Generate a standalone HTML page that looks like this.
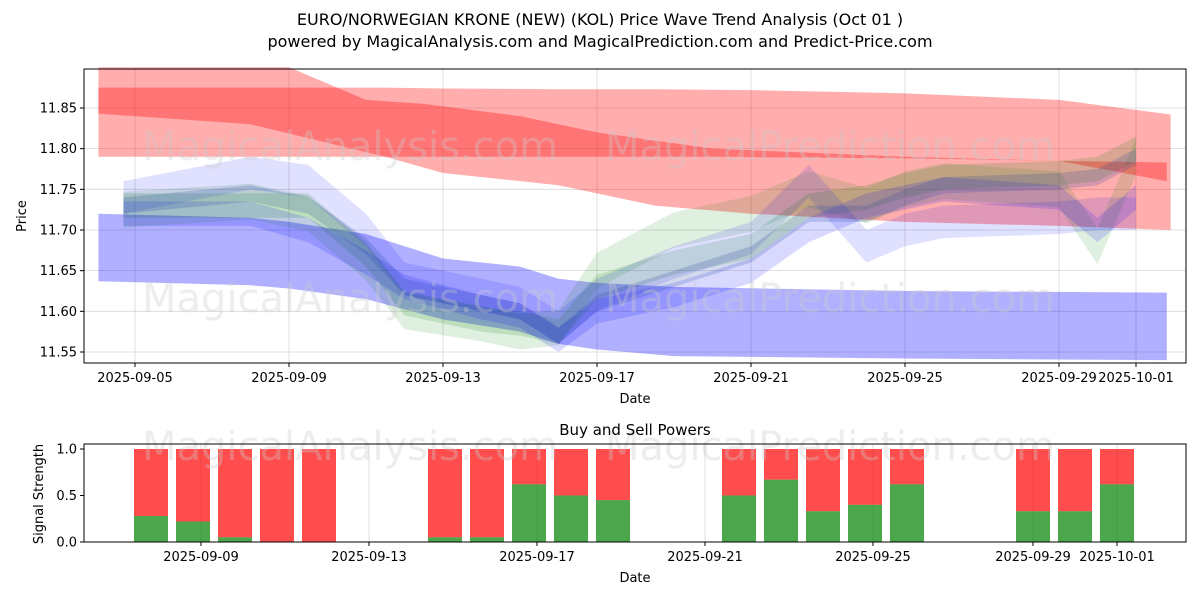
<!DOCTYPE html>
<html><head><meta charset="utf-8">
<style>
body{margin:0;background:#fff;font-family:"Liberation Sans","DejaVu Sans",sans-serif;}
svg text{font-family:"DejaVu Sans","Liberation Sans",sans-serif;}
</style></head>
<body>
<svg id="c" width="1200" height="600" xmlns="http://www.w3.org/2000/svg">
<text x="600" y="25" text-anchor="middle" font-size="16">EURO/NORWEGIAN KRONE (NEW) (KOL) Price Wave Trend Analysis (Oct 01 )</text>
<text x="600" y="47" text-anchor="middle" font-size="16">powered by MagicalAnalysis.com and MagicalPrediction.com and Predict-Price.com</text>
<g id="main"></g>
<g id="sub"></g>
</svg>
<script>
// ---------- data ----------
const priceTicks = [11.55, 11.60, 11.65, 11.70, 11.75, 11.80, 11.85];
const priceTickLabels = ["11.55","11.60","11.65","11.70","11.75","11.80","11.85"];
const dateTickDays = [5, 9, 13, 17, 21, 25, 29, 31];
const dateTickLabels = ["2025-09-05","2025-09-09","2025-09-13","2025-09-17","2025-09-21","2025-09-25","2025-09-29","2025-10-01"];

const redADays = [4.05, 9, 11, 12.5, 15, 17, 20, 25, 29, 31.8];
const redAUpper = [11.90, 11.90, 11.86, 11.855, 11.84, 11.82, 11.80, 11.79, 11.785, 11.783];
const redALower = [11.79, 11.79, 11.79, 11.79, 11.79, 11.79, 11.79, 11.788, 11.785, 11.76];
const redBDays = [4.05, 8, 11.5, 13, 16, 18.5, 21, 25, 29, 31.9];
const redBUpper = [11.875, 11.875, 11.875, 11.874, 11.873, 11.873, 11.872, 11.868, 11.86, 11.842];
const redBLower = [11.843, 11.83, 11.79, 11.77, 11.755, 11.73, 11.72, 11.71, 11.705, 11.70];

const blueDays = [4.05, 8, 9, 11, 13, 15, 16, 17, 19, 25, 31.8];
const blueUpper = [11.72, 11.715, 11.71, 11.695, 11.665, 11.655, 11.64, 11.635, 11.63, 11.625, 11.623];
const blueLower = [11.637, 11.632, 11.628, 11.615, 11.59, 11.575, 11.56, 11.553, 11.545, 11.542, 11.54];

const waveDays = [4.7, 8, 9.5, 11, 12, 14, 15, 16, 17, 19, 21, 22.5, 24, 25, 26, 29, 30, 31];
const waveMain = [11.73, 11.745, 11.73, 11.68, 11.63, 11.61, 11.60, 11.57, 11.61, 11.64, 11.67, 11.72, 11.72, 11.74, 11.755, 11.76, 11.765, 11.79];
const waveGreen = [11.725, 11.735, 11.72, 11.66, 11.60, 11.585, 11.575, 11.58, 11.65, 11.70, 11.72, 11.75, 11.73, 11.75, 11.76, 11.75, 11.68, 11.79];
const waveBlueHigh = [11.74, 11.77, 11.76, 11.70, 11.64, 11.62, 11.61, 11.58, 11.62, 11.66, 11.69, 11.76, 11.68, 11.70, 11.71, 11.715, 11.72, 11.72];
const waveBlueLow = [11.72, 11.72, 11.70, 11.66, 11.63, 11.605, 11.595, 11.565, 11.60, 11.62, 11.65, 11.70, 11.73, 11.74, 11.75, 11.74, 11.70, 11.74];
const waveGreen2 = [11.73, 11.73, 11.73, 11.67, 11.61, 11.59, 11.585, 11.575, 11.63, 11.66, 11.68, 11.73, 11.74, 11.755, 11.765, 11.77, 11.775, 11.80];

const barDays = [8, 9, 10, 11, 12, 15, 16, 17, 18, 19, 22, 23, 24, 25, 26, 29, 30, 31];
const buyPower = [0.28, 0.22, 0.05, 0, 0, 0.05, 0.05, 0.62, 0.5, 0.45, 0.5, 0.67, 0.33, 0.4, 0.62, 0.33, 0.33, 0.62];
const subTicks = [0, 0.5, 1.0];
const subTickLabels = ["0.0","0.5","1.0"];
const subDateX = [201, 369, 537, 705, 873, 1033, 1117];
const subDateLabels = ["2025-09-09","2025-09-13","2025-09-17","2025-09-21","2025-09-25","2025-09-29","2025-10-01"];

// ---------- axes ----------
const M = {l:84, r:1186, t:69, b:363};
const X = d => 135 + (d - 5) * 38.5;
const Y = v => 352 - (v - 11.55) / 0.05 * 40.67;
const S = {l:84, r:1186, t:444, b:542};
const BX = d => 151 + (d - 8) * 42;
const SY = v => 542 - v * 93;
const NS = "http://www.w3.org/2000/svg";
function mk(parent, tag, attrs) {
  const e = document.createElementNS(NS, tag);
  for (const k in attrs) e.setAttribute(k, attrs[k]);
  parent.appendChild(e); return e;
}
const main = document.getElementById('main');
const sub = document.getElementById('sub');

priceTicks.forEach((v, i) => {
  const g = mk(main, 'line', {x1:M.l, x2:M.r, y1:Y(v), y2:Y(v), stroke:'#b0b0b0', 'stroke-width':0.8, 'stroke-opacity':0.5});
  
  
  mk(main, 'line', {x1:M.l-4, x2:M.l, y1:Y(v), y2:Y(v), stroke:'#000'});
  const t = mk(main, 'text', {x:M.l-7, y:Y(v)+4.5, 'text-anchor':'end', 'font-size':13});
  t.textContent = priceTickLabels[i];
  
  
});
dateTickDays.forEach((d, i) => {
  const g = mk(main, 'line', {x1:X(d), x2:X(d), y1:M.t, y2:M.b, stroke:'#b0b0b0', 'stroke-width':0.8, 'stroke-opacity':0.5});
  
  
  mk(main, 'line', {x1:X(d), x2:X(d), y1:M.b, y2:M.b+4, stroke:'#000'});
  const t = mk(main, 'text', {x:X(d), y:M.b+19, 'text-anchor':'middle', 'font-size':13});
  t.textContent = dateTickLabels[i];
  
  
});

function band(parent, days, up, lo, fill, op, name) {
  let pts = days.map((d, i) => X(d) + ',' + Y(up[i]));
  pts = pts.concat(days.map((d, i) => X(d) + ',' + Y(lo[i])).reverse());
  const p = mk(parent, 'polygon', {points: pts.join(' '), fill: fill, 'fill-opacity': op});
  
  
}
band(main, redADays, redAUpper, redALower, '#ff0000', 0.32, 'red-band-a');
band(main, redBDays, redBUpper, redBLower, '#ff0000', 0.32, 'red-band-b');
band(main, blueDays, blueUpper, blueLower, '#0000ff', 0.31, 'blue-band');

function wave(series, hw, fill, op, name) {
  const up = series.map(v => v + hw), lo = series.map(v => v - hw);
  band(main, waveDays, up, lo, fill, op, name);
}
wave(waveGreen, 0.022, '#008000', 0.12, 'green-wave-a');
wave(waveGreen2, 0.015, '#008000', 0.15, 'green-wave-b');
wave(waveBlueHigh, 0.02, '#0000ff', 0.12, 'blue-wave-a');
wave(waveBlueLow, 0.015, '#0000ff', 0.15, 'blue-wave-b');
wave(waveMain, 0.01, '#2040a0', 0.2, 'main-wave');

[[350,160],[830,160],[350,312],[830,312]].forEach((p, i) => {
  const t = mk(main, 'text', {x:p[0], y:p[1], 'text-anchor':'middle', 'font-size':40, fill:'#cccccc', 'fill-opacity':0.35});
  t.textContent = i % 2 ? 'MagicalPrediction.com' : 'MagicalAnalysis.com';
  
  
});
mk(main, 'rect', {x:M.l, y:M.t, width:M.r-M.l, height:M.b-M.t, fill:'none', stroke:'#000', 'stroke-width':1});
let t1 = mk(main, 'text', {x:635, y:403, 'text-anchor':'middle', 'font-size':13}); t1.textContent = 'Date';


let t2 = mk(main, 'text', {x:26, y:216, 'text-anchor':'middle', 'font-size':13, transform:'rotate(-90 26 216)'}); t2.textContent = 'Price';



// ---------- sub chart ----------
subDateX.forEach((x, i) => {
  const g = mk(sub, 'line', {x1:x, x2:x, y1:S.t, y2:S.b, stroke:'#b0b0b0', 'stroke-width':0.8, 'stroke-opacity':0.5});
  
  
  mk(sub, 'line', {x1:x, x2:x, y1:S.b, y2:S.b+4, stroke:'#000'});
  const t = mk(sub, 'text', {x:x, y:S.b+19, 'text-anchor':'middle', 'font-size':13});
  t.textContent = subDateLabels[i];
  
  
});
subTicks.forEach((v, i) => {
  mk(sub, 'line', {x1:S.l-4, x2:S.l, y1:SY(v), y2:SY(v), stroke:'#000'});
  const t = mk(sub, 'text', {x:S.l-7, y:SY(v)+4.5, 'text-anchor':'end', 'font-size':13});
  t.textContent = subTickLabels[i];
  
  
});
barDays.forEach((d, i) => {
  const x = BX(d) - 17, b = buyPower[i];
  const r = mk(sub, 'rect', {x:x, y:SY(1), width:34, height:SY(b)-SY(1), fill:'#ff0000', 'fill-opacity':0.7});
  
  
  const g = mk(sub, 'rect', {x:x, y:SY(b), width:34, height:SY(0)-SY(b), fill:'#008000', 'fill-opacity':0.7});
  
  
});
[[350,460],[830,460]].forEach((p, i) => {
  const t = mk(sub, 'text', {x:p[0], y:p[1], 'text-anchor':'middle', 'font-size':40, fill:'#cccccc', 'fill-opacity':0.35});
  t.textContent = i ? 'MagicalPrediction.com' : 'MagicalAnalysis.com';
  
  
});
mk(sub, 'rect', {x:S.l, y:S.t, width:S.r-S.l, height:S.b-S.t, fill:'none', stroke:'#000', 'stroke-width':1});
let t3 = mk(sub, 'text', {x:635, y:435, 'text-anchor':'middle', 'font-size':15}); t3.textContent = 'Buy and Sell Powers';


let t4 = mk(sub, 'text', {x:635, y:582, 'text-anchor':'middle', 'font-size':13}); t4.textContent = 'Date';


let t5 = mk(sub, 'text', {x:43, y:494, 'text-anchor':'middle', 'font-size':13, transform:'rotate(-90 43 494)'}); t5.textContent = 'Signal Strength';


</script>
</body></html>
